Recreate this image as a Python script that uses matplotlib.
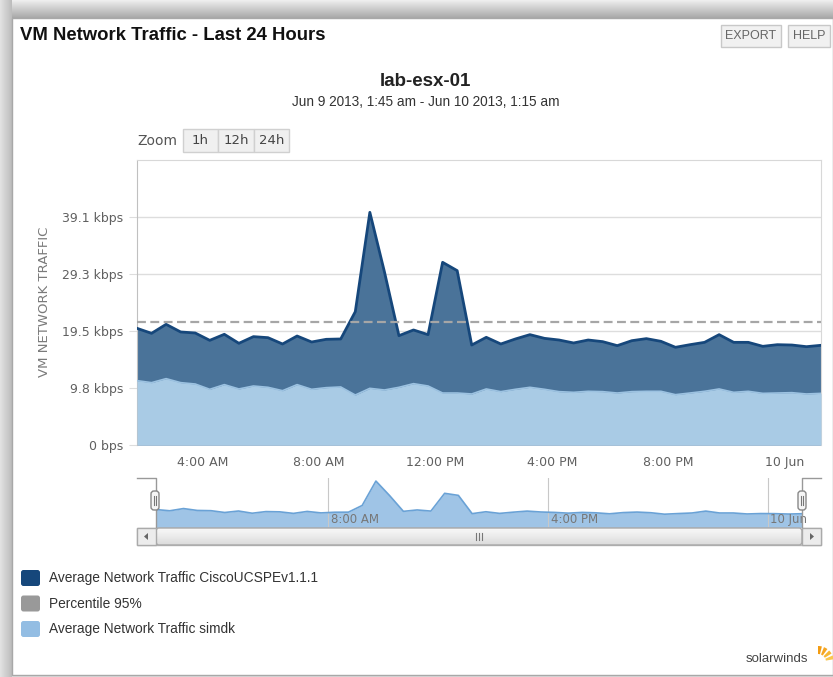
import numpy as np
import matplotlib
matplotlib.use("Agg")
import matplotlib.pyplot as plt
from matplotlib.patches import Rectangle, FancyBboxPatch, Polygon, Wedge

W, H = 833, 677

# half-hour samples, Jun 9 2013 1:45 am -> Jun 10 2013 1:15 am (hours since Jun 9 00:00)
start_hour = 1.75
step_hours = 0.5

cisco_bps = [20470, 19590, 21170, 19830, 19650, 18360, 19420, 17840, 19010, 18830,
             17720, 19120, 18070, 18540, 18600, 23390, 40820,
             30400, 19180, 20180, 19360, 32050, 30590, 17540, 18890, 17720,
             18600, 19360, 18710, 18420, 17900, 18420,
             18130, 17430, 18300, 18660, 18190, 17140, 17600, 18010, 19360,
             18010, 18010, 17310, 17600, 17540, 17250, 17490]

simdk_bps = [11290, 10940, 11640, 10940, 10700, 9770, 10590, 9830, 10350, 10120,
             9530, 10590, 9770, 10060, 10180, 8770, 9940,
             9650, 10120, 10760, 10350, 9120, 9120, 8950, 9830, 9360,
             9770, 10120, 9770, 9360, 9240, 9420,
             9360, 9120, 9360, 9420, 9420, 8830, 9120, 9420, 9830,
             9240, 9420, 9060, 9120, 9180, 8950, 9060]

percentile_95 = 21500

y_ticks = [0, 10000, 20000, 30000, 40000]
x_tick_hours = [4, 8, 12, 16, 20, 24]
x_tick_labels = ["4:00 AM", "8:00 AM", "12:00 PM", "4:00 PM", "8:00 PM", "10 Jun"]
nav_tick_hours = [8, 16, 24]
nav_tick_labels = ["8:00 AM", "4:00 PM", "10 Jun"]

legend_labels = ["Average Network Traffic CiscoUCSPEv1.1.1", "Percentile 95%",
                 "Average Network Traffic simdk"]

hours = start_hour + step_hours * np.arange(len(cisco_bps))
end_hour = hours[-1]

DARK_FILL = "#4a7399"
DARK_LINE = "#16477b"
LIGHT_FILL = "#a9cbe5"
LIGHT_LINE = "#9cc2e1"
GRID = "#dddddd"
TXT = "#606060"

plt.rcParams["font.family"] = ["Liberation Sans", "DejaVu Sans"]

fig = plt.figure(figsize=(W / 100, H / 100), dpi=100)
fig.patch.set_facecolor("#dcdcdc")


def px_axes(x0, y0, x1, y1, **kw):
    return fig.add_axes([x0 / W, 1 - y1 / H, (x1 - x0) / W, (y1 - y0) / H], **kw)


def pixel_layer():
    a = fig.add_axes([0, 0, 1, 1])
    a.patch.set_alpha(0)
    a.axis("off")
    return a


def lock(a):
    a.set_xlim(0, W)
    a.set_ylim(H, 0)


# background layer in pixel coordinates
bg = pixel_layer()
left_grad = np.linspace(0.88, 0.74, 12).reshape(1, -1)
bg.imshow(left_grad, cmap="gray", vmin=0, vmax=1, extent=(0, 12, H, 0), aspect="auto")
top_grad = np.linspace(0.93, 0.66, 18).reshape(-1, 1)
bg.imshow(top_grad, cmap="gray", vmin=0, vmax=1, extent=(12, W, 18, 0), aspect="auto")
bg.add_patch(Rectangle((12, 18), W - 12, 657, facecolor="white", edgecolor="#a8a8a8", lw=1))
lock(bg)

# header
bg.text(20, 36, "VM Network Traffic - Last 24 Hours", fontsize=13.3, fontweight="bold",
        color="#111111", va="center")
for x0, x1, label in [(721, 781, "EXPORT"), (788, 830, "HELP")]:
    bg.add_patch(Rectangle((x0, 25), x1 - x0, 22, facecolor="#f1f1f1", edgecolor="#c8c8c8", lw=1))
    bg.text((x0 + x1) / 2, 36, label, fontsize=9, color="#666666", ha="center", va="center")

bg.text(425, 81, "lab-esx-01", fontsize=13.5, fontweight="bold", color="#222222",
        ha="center", va="center")
bg.text(426, 102, "Jun 9 2013, 1:45 am - Jun 10 2013, 1:15 am", fontsize=9.8,
        color="#333333", ha="center", va="center")

# zoom buttons
bg.text(137, 141, "Zoom", fontsize=10, color="#555555", va="center", family="DejaVu Sans")
for x0, x1, label in [(183, 218, "1h"), (218, 254, "12h"), (254, 289, "24h")]:
    bg.add_patch(Rectangle((x0, 129), x1 - x0, 23, facecolor="#f0f0f0", edgecolor="#d0d0d0", lw=1))
    bg.text((x0 + x1) / 2, 141, label, fontsize=9.5, color="#444444", ha="center",
            va="center", family="DejaVu Sans")

bg.text(45, 302, "VM NETWORK TRAFFIC", fontsize=9.5, color="#7a7a7a", rotation=90,
        ha="center", va="center", family="DejaVu Sans")

# main chart
ax = px_axes(137, 160, 821, 445)
ax.fill_between(hours, 0, cisco_bps, color=DARK_FILL, lw=0, zorder=2)
ax.plot(hours, cisco_bps, color=DARK_LINE, lw=2, zorder=3)
ax.fill_between(hours, 0, simdk_bps, color=LIGHT_FILL, lw=0, zorder=4)
ax.plot(hours, simdk_bps, color=LIGHT_LINE, lw=1.2, zorder=4)
ax.axhline(percentile_95, color="#a6a6a6", lw=1.6, ls=(0, (4, 2)), zorder=5)

ax.set_xlim(start_hour, end_hour)
ax.set_ylim(0, 50000)
ax.set_yticks(y_ticks)
ax.set_yticklabels(["0 bps" if v == 0 else f"{v / 1024:.1f} kbps" for v in y_ticks])
ax.set_xticks(x_tick_hours)
ax.set_xticklabels(x_tick_labels)
ax.grid(axis="y", color=GRID, lw=1, zorder=1)
ax.set_axisbelow(True)
ax.tick_params(axis="y", length=6, color=GRID, labelcolor=TXT, labelsize=9, pad=4)
ax.tick_params(axis="x", length=0, labelcolor=TXT, labelsize=9, pad=8)
for lab in ax.get_xticklabels() + ax.get_yticklabels():
    lab.set_family("DejaVu Sans")
ax.spines["left"].set_color("#c0c0c0")
ax.spines["top"].set_color("#d8d8d8")
ax.spines["right"].set_color("#d8d8d8")
ax.spines["bottom"].set_visible(False)

# navigator
nav = px_axes(156, 478, 802, 527)
nav.fill_between(hours, 0, cisco_bps, color="#9fc4e6", lw=0)
nav.plot(hours, cisco_bps, color="#6aa2d6", lw=1.2)
nav.set_xlim(start_hour, end_hour)
nav.set_ylim(8000, 43000)
nav.set_xticks(nav_tick_hours)
nav.set_xticklabels([])
nav.set_yticks([])
nav.tick_params(length=0)
nav.grid(axis="x", color="#c8c8c8", lw=0.8)
for h, label in zip(nav_tick_hours, nav_tick_labels):
    nav.annotate(label, (h, 0), xycoords=("data", "axes fraction"), xytext=(2, 3),
                 textcoords="offset points", fontsize=8.5, color="#777777",
                 family="DejaVu Sans")
for s in nav.spines.values():
    s.set_visible(False)

# overlay: navigator outline, handles, scrollbar, legend, logo
top = pixel_layer()
top.plot([137, 156, 156], [478, 478, 527], color="#999999", lw=1)
top.plot([821, 802, 802], [478, 478, 527], color="#999999", lw=1)
for hx in (155, 802):
    top.add_patch(FancyBboxPatch((hx - 4, 491), 8, 19, boxstyle="round,pad=0,rounding_size=3",
                                 facecolor="#f6f6f6", edgecolor="#888888", lw=1, zorder=5))
    top.plot([hx - 1, hx - 1], [496, 505], color="#777777", lw=0.8, zorder=6)
    top.plot([hx + 1, hx + 1], [496, 505], color="#777777", lw=0.8, zorder=6)

top.add_patch(Rectangle((137, 528), 684, 17, facecolor="#eeeeee", edgecolor="#bbbbbb", lw=1))
thumb_grad = np.linspace(0.97, 0.86, 17).reshape(-1, 1)
top.imshow(thumb_grad, cmap="gray", vmin=0, vmax=1, extent=(156, 802, 545, 528),
           aspect="auto", zorder=2)
top.add_patch(FancyBboxPatch((156, 528), 646, 17, boxstyle="round,pad=0,rounding_size=3",
                             facecolor="none", edgecolor="#a8a8a8", lw=1, zorder=3))
for bx in (137, 802):
    top.add_patch(Rectangle((bx, 528), 19, 17, facecolor="#ececec", edgecolor="#aaaaaa",
                            lw=1, zorder=3))
top.add_patch(Polygon([[148, 533], [148, 540], [144, 536.5]], closed=True,
                      facecolor="#666666", lw=0, zorder=4))
top.add_patch(Polygon([[810, 533], [810, 540], [814, 536.5]], closed=True,
                      facecolor="#666666", lw=0, zorder=4))
for gx in (476, 479, 482):
    top.plot([gx, gx], [533, 540], color="#777777", lw=0.8, zorder=4)

swatches = [DARK_LINE, "#999999", "#93bde3"]
for i, (c, label) in enumerate(zip(swatches, legend_labels)):
    yc = 578 + i * 25.5
    top.add_patch(FancyBboxPatch((21, yc - 8), 19, 16, boxstyle="round,pad=0,rounding_size=2.5",
                                 facecolor=c, edgecolor="none"))
    top.text(49, yc, label, fontsize=9.9, color="#333333", va="center")

top.text(808, 659, "solarwinds", fontsize=9.5, color="#444444", ha="right", va="center")
for ang, col in [(270, "#f39c12"), (292, "#f5a623"), (314, "#f7b733"), (336, "#f9c74f")]:
    top.add_patch(Wedge((818, 662), 16, ang, ang + 14, width=8, facecolor=col,
                        edgecolor="none"))
lock(top)

fig.savefig("out.png", dpi=100, facecolor=fig.get_facecolor())
